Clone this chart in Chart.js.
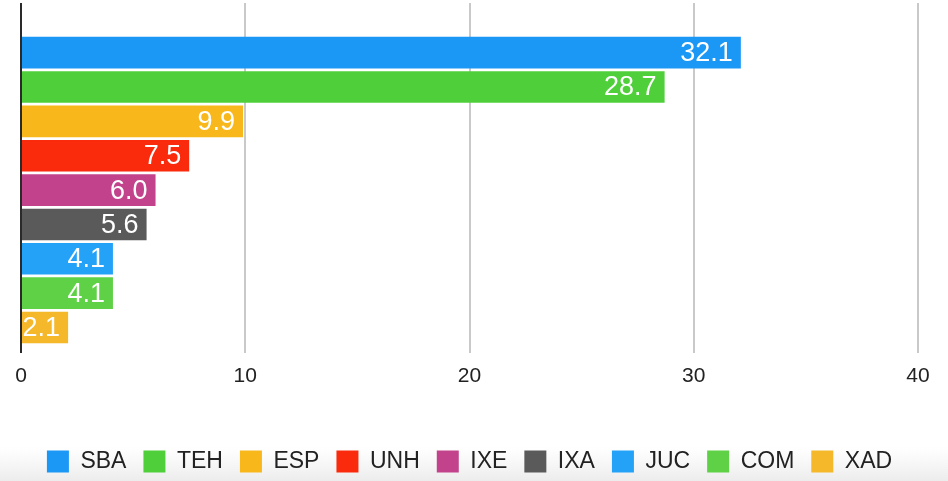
<!DOCTYPE html>
<html>
<head>
<meta charset="utf-8">
<script src="https://cdn.jsdelivr.net/npm/chart.js@4"></script>
<style>
  html, body { margin: 0; padding: 0; background: #ffffff; }
  #wrap { width: 948px; height: 481px; position: relative; }
</style>
</head>
<body>
<div id="wrap"><canvas id="chart"></canvas></div>
<script>
// Series names, values and colours (one bar per series)
const seriesNames  = ['SBA', 'TEH', 'ESP', 'UNH', 'IXE', 'IXA', 'JUC', 'COM', 'XAD'];
const seriesValues = [32.1, 28.7, 9.9, 7.5, 6.0, 5.6, 4.1, 4.1, 2.1];
const seriesColors = ['#1B97F6', '#4FCF3A', '#F8B81C', '#FA2A0C', '#C2438B', '#5A5A5A', '#24A2F8', '#5ED146', '#F4B82A'];
const xTicks = [0, 10, 20, 30, 40];

const FONT = '"Liberation Sans", Arial, Helvetica, sans-serif';

const datasets = seriesNames.map((name, i) => ({
  label: name,
  data: [{ x: seriesValues[i], y: 0 }],
  backgroundColor: seriesColors[i],
  borderWidth: 0,
  categoryPercentage: 0.884,
  barPercentage: 0.92
}));

// Soft grey shading behind the legend strip
const footerShade = {
  id: 'footerShade',
  beforeDraw(chart) {
    const { ctx, width, height } = chart;
    const g = ctx.createLinearGradient(0, height - 34, 0, height);
    g.addColorStop(0, 'rgba(240,240,240,0)');
    g.addColorStop(1, 'rgba(236,236,236,1)');
    ctx.save();
    ctx.fillStyle = g;
    ctx.fillRect(0, height - 34, width, 34);
    ctx.restore();
  }
};

// White value text at the inner end of each bar
const valueLabels = {
  id: 'valueLabels',
  afterDatasetsDraw(chart) {
    const ctx = chart.ctx;
    ctx.save();
    ctx.font = '27px ' + FONT;
    ctx.fillStyle = '#ffffff';
    ctx.textAlign = 'right';
    ctx.textBaseline = 'middle';
    chart.data.datasets.forEach((ds, i) => {
      const meta = chart.getDatasetMeta(i);
      meta.data.forEach((bar, j) => {
        const v = ds.data[j].x;
        ctx.fillText(v.toFixed(1), bar.x - 8, bar.y + 1);
      });
    });
    ctx.restore();
  }
};

new Chart(document.getElementById('chart'), {
  type: 'bar',
  data: { datasets },
  options: {
    indexAxis: 'y',
    responsive: true,
    maintainAspectRatio: false,
    animation: false,
    layout: { padding: { top: 3, left: 21, right: 30, bottom: -2 } },
    scales: {
      x: {
        type: 'linear',
        min: xTicks[0],
        max: xTicks[xTicks.length - 1],
        afterBuildTicks(scale) { scale.ticks = xTicks.map(v => ({ value: v })); },
        afterFit(scale) { scale.height += 33; },
        border: { display: false },
        grid: {
          drawTicks: false,
          lineWidth: 2,
          color: c => (c.tick && c.tick.value === 0) ? '#2a2a2a' : '#c9c9c9'
        },
        ticks: {
          padding: 11,
          color: '#222222',
          font: { family: FONT, size: 21 }
        }
      },
      y: {
        type: 'linear',
        display: false,
        min: -0.4652,
        max: 0.5348,
        afterBuildTicks(scale) { scale.ticks = []; }
      }
    },
    plugins: {
      legend: {
        position: 'bottom',
        labels: {
          boxWidth: 22,
          boxHeight: 22,
          padding: 17,
          color: '#222222',
          font: { family: FONT, size: 23 }
        }
      },
      tooltip: { enabled: false }
    }
  },
  plugins: [footerShade, valueLabels]
});
</script>
</body>
</html>
